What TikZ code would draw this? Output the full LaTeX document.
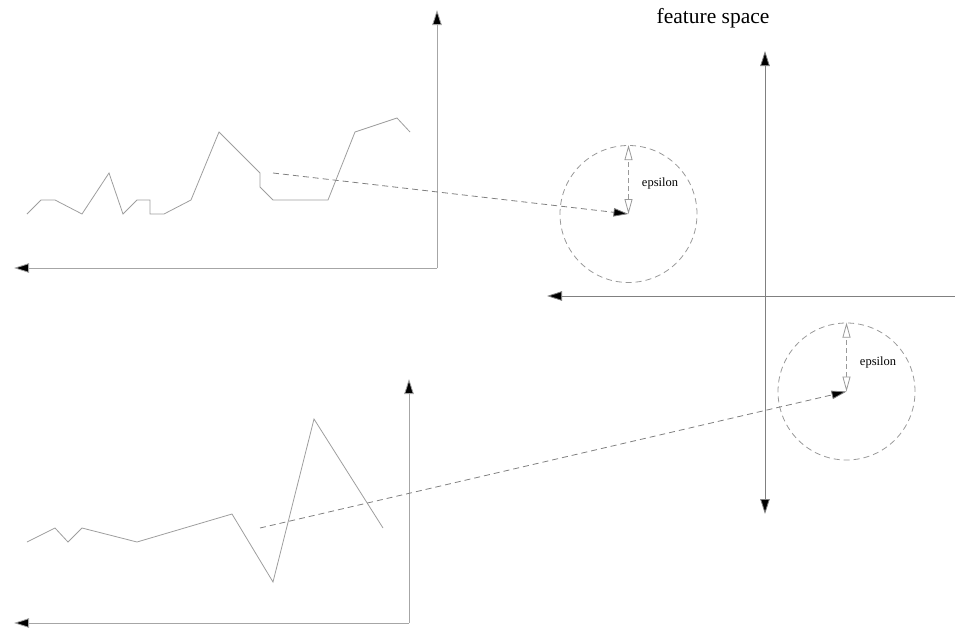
\documentclass[tikz,border=0pt]{standalone}
\usepackage{fontspec}
\setmainfont{Liberation Serif}
\usetikzlibrary{arrows.meta}
\begin{document}
\begin{tikzpicture}[x=1pt,y=-1pt,
  axis/.style={draw=black!35,line width=0.8pt,-{Triangle[length=15pt,width=9.5pt,fill=black]}},
  series/.style={draw=black!38,line width=0.8pt,line join=miter},
  mapping/.style={draw=black!50,line width=0.8pt,dash pattern=on 6pt off 4pt,-{Triangle[length=15pt,width=8.5pt,fill=black]}},
  epsarrow/.style={draw=black!40,line width=0.8pt,dash pattern=on 5pt off 3pt,{Triangle[open,length=15pt,width=8pt,fill=white]}-{Triangle[open,length=15pt,width=8pt,fill=white]}},
  ball/.style={circle,draw=black!40,line width=0.8pt,dash pattern=on 6pt off 4pt,minimum size=137pt,inner sep=0pt},
  eps/.style={font=\fontsize{12.5}{14}\selectfont,inner sep=0pt},
]
\useasboundingbox (0,0) rectangle (955,629);

% ---- top-left plot ----
\coordinate (o1) at (437,268);
\coordinate (y1) at (437,10);
\coordinate (x1) at (14,268);
\draw[axis] (o1) -- (y1);
\draw[axis] (o1) -- (x1);
\draw[series] (27,214) -- (41,200) -- (55,200) -- (82,214) -- (109,173) -- (123,214)
  -- (137,200) -- (150,200) -- (150,214) -- (164,214) -- (191,200) -- (219,132)
  -- (260,173) -- (260,187) -- (273,200) -- (328,200) -- (355,132) -- (397,118) -- (410,132);
\coordinate (s1) at (273,173);

% ---- bottom-left plot ----
\coordinate (o2) at (409,623);
\coordinate (y2) at (409,379);
\coordinate (x2) at (14,623);
\draw[axis] (o2) -- (y2);
\draw[axis] (o2) -- (x2);
\draw[series] (27,542) -- (55,528) -- (68,542) -- (82,528) -- (137,542) -- (232,514)
  -- (273,582) -- (314,419) -- (383,528);
\coordinate (s2) at (260,528);

% ---- feature space ----
\node[font=\fontsize{21.5}{24}\selectfont,inner sep=0pt] (title) at (713,18) {feature space};
\coordinate (fo) at (765,296);
\coordinate (fup) at (765,51);
\coordinate (fdown) at (765,514);
\coordinate (fleft) at (547,296);
\coordinate (fright) at (955,296);
\draw[axis,draw=black!50] (fo) -- (fup);
\draw[axis,draw=black!50] (fo) -- (fdown);
\draw[axis,draw=black!50] (fright) -- (fleft);

% ---- balls ----
\node[ball] (b1) at (628.5,214) {};
\node[ball] (b2) at (846.5,391.5) {};
\coordinate (c1) at (b1.center);
\coordinate (c2) at (b2.center);
\draw[epsarrow] (c1) -- (b1.north);
\draw[epsarrow] (c2) -- (b2.north);
\node[eps] (e1) at (660,183) {epsilon};
\node[eps] (e2) at (878,362) {epsilon};

% ---- mappings ----
\draw[mapping] (s1) -- (c1);
\draw[mapping] (s2) -- (c2);
\end{tikzpicture}
\end{document}
